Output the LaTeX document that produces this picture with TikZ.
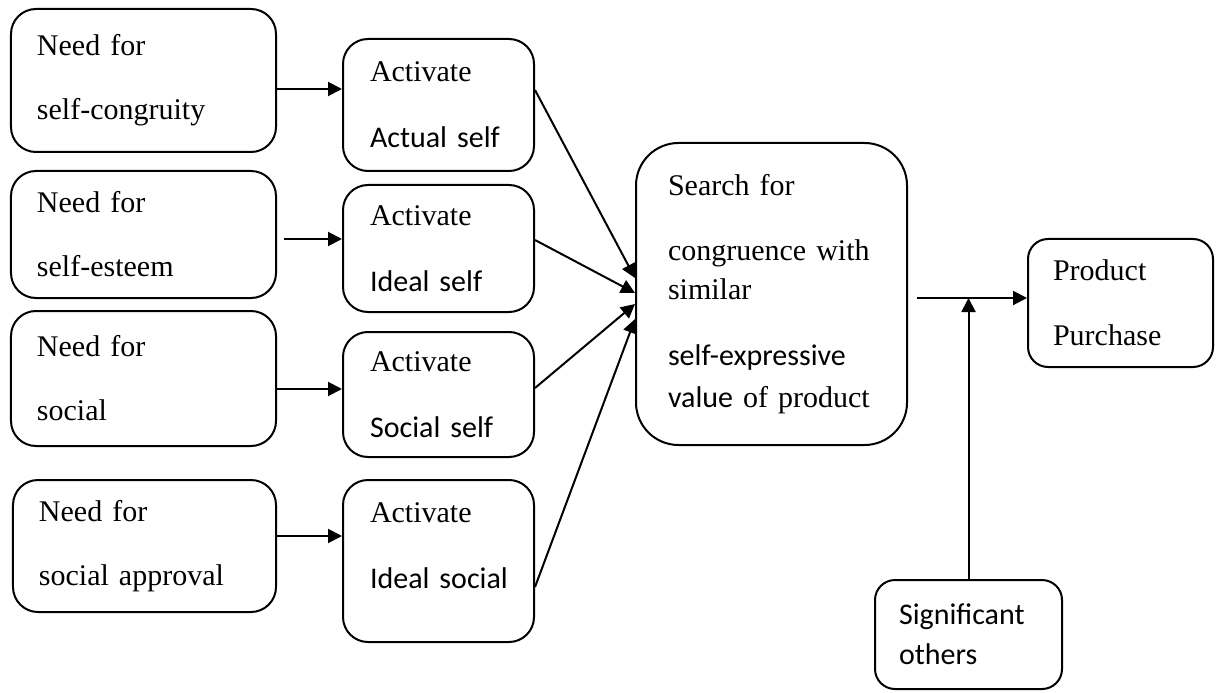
\documentclass[tikz,border=0pt]{standalone}
\usepackage{fontspec}
\setmainfont{Liberation Serif}
\newfontfamily\carlito{Carlito}
\usetikzlibrary{arrows.meta}

\begin{document}
\begin{tikzpicture}[x=0.4pt, y=-0.4pt,
   every node/.style={draw, line width=0.8pt, rounded corners=10pt, align=left,
       inner xsep=10.4pt, inner ysep=0pt, font=\fontsize{12}{14.4}\selectfont},
   need/.style={minimum width=106pt, text width=85.2pt},
   act/.style={minimum width=76.4pt, text width=54.8pt, inner xsep=10.8pt},
   arr/.style={line width=0.8pt, -{Triangle[length=5.6pt,width=5.6pt]}}]

\useasboundingbox (0,0) rectangle (1217,692);

% the four needs
\node[need, minimum height=57.2pt] (n1) at (143.5,80.5) {Need for\\[11.2pt]self-congruity};
\node[need, minimum height=50.8pt] (n2) at (143.5,234.5) {Need for\\[11.2pt]self-esteem};
\node[need, minimum height=54pt] (n3) at (143.5,378.5) {Need for\\[11.2pt]social};
\node[need, minimum width=105.2pt, text width=84.4pt, minimum height=52.8pt]
    (n4) at (144.5,546) {Need for\\[11.2pt]social approval};

% the selves they activate
\node[act, minimum height=52.8pt] (a1) at (438.5,105) {Activate\\[12pt]{\carlito Actual self}};
\node[act, minimum height=50.8pt] (a2) at (438.5,248.5) {Activate\\[12pt]{\carlito Ideal self}};
\node[act, minimum height=50pt] (a3) at (438.5,394.5) {Activate\\[12pt]{\carlito Social self}};
\node[act, minimum height=64.8pt, text depth=38.4pt] (a4) at (438.5,561)
    {Activate\\[12pt]{\carlito\mbox{Ideal social}}};

\node[rounded corners=17pt, inner xsep=12.8pt, minimum width=108.4pt, text width=82.8pt,
      minimum height=120.8pt] (search) at (771.5,294)
    {Search for\\[11.6pt]congruence with\\[1.2pt]similar\\[12pt]{\carlito self-expressive}\\[2.4pt]{\carlito value} of product};

\node[rounded corners=8pt, inner xsep=10pt, minimum width=74pt, text width=54pt,
      minimum height=51.2pt] (buy) at (1120.5,303) {Product\\[11.6pt]Purchase};
\node[rounded corners=8pt, inner xsep=9.6pt, minimum width=74.8pt, text width=55.6pt,
      minimum height=43.6pt, font=\carlito\fontsize{12}{14.4}\selectfont]
    (others) at (968.5,634.5) {Significant\\[1.6pt]others};

\coordinate (split) at (917,298);

\draw[arr] ([yshift=-3.4pt]n1.east) -- ([yshift=-3.4pt]n1.east -| a1.west);
\draw[arr] ([xshift=2.8pt,yshift=-1.8pt]n2.east) -- ([yshift=-1.8pt]n2.east -| a2.west);
\draw[arr] ([yshift=-4.2pt]n3.east) -- ([yshift=-4.2pt]n3.east -| a3.west);
\draw[arr] ([yshift=4pt]n4.east) -- ([yshift=4pt]n4.east -| a4.west);

\draw[arr] ([yshift=6pt]a1.east) -- ([yshift=6.4pt]search.west);
\draw[arr] ([yshift=3.4pt]a2.east) -- ([yshift=0.4pt]search.west);
\draw[arr] ([yshift=2.6pt]a3.east) -- ([yshift=-4pt]search.west);
\draw[arr] ([yshift=-10.4pt]a4.east) -- ([yshift=-10pt]search.west);

\draw[arr] (split) -- (split -| buy.west);
\draw[arr] (others.north) -- (others.north |- split);

\end{tikzpicture}
\end{document}
